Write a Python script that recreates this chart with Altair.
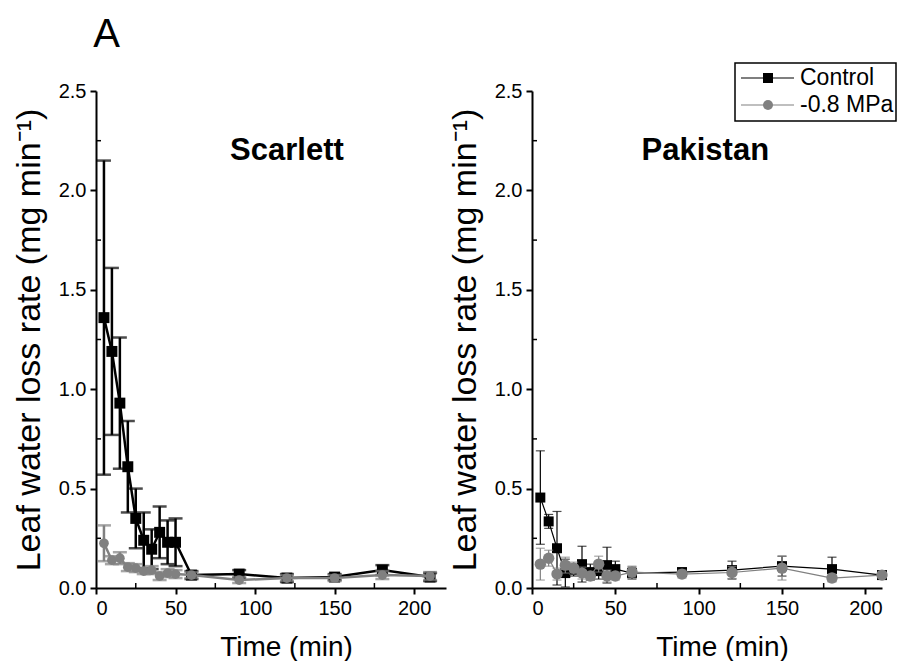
import altair as alt
import pandas as pd

# ---------------- data ----------------
times = [5, 10, 15, 20, 25, 30, 35, 40, 45, 50, 60, 90, 120, 150, 180, 210]

scarlett_control_mean = [1.36, 1.19, 0.93, 0.61, 0.35, 0.24, 0.195, 0.28, 0.23, 0.23, 0.065, 0.07, 0.05, 0.055, 0.09, 0.055]
scarlett_control_err = [0.79, 0.42, 0.33, 0.23, 0.15, 0.14, 0.10, 0.13, 0.11, 0.12, 0.02, 0.02, 0.02, 0.015, 0.025, 0.02]
scarlett_stress_mean = [0.225, 0.14, 0.15, 0.105, 0.10, 0.085, 0.09, 0.06, 0.075, 0.07, 0.065, 0.04, 0.05, 0.05, 0.065, 0.06]
scarlett_stress_err = [0.09, 0.02, 0.03, 0.02, 0.02, 0.015, 0.02, 0.02, 0.02, 0.02, 0.015, 0.015, 0.015, 0.015, 0.02, 0.02]

pakistan_control_mean = [0.455, 0.335, 0.20, 0.075, 0.09, 0.12, 0.08, 0.085, 0.115, 0.095, 0.075, 0.08, 0.09, 0.11, 0.095, 0.065]
pakistan_control_err = [0.235, 0.035, 0.185, 0.07, 0.03, 0.09, 0.04, 0.04, 0.09, 0.04, 0.03, 0.02, 0.045, 0.05, 0.06, 0.02]
pakistan_stress_mean = [0.12, 0.15, 0.07, 0.115, 0.10, 0.075, 0.06, 0.12, 0.06, 0.06, 0.08, 0.07, 0.078, 0.10, 0.05, 0.065]
pakistan_stress_err = [0.08, 0.04, 0.03, 0.04, 0.03, 0.03, 0.02, 0.04, 0.03, 0.02, 0.03, 0.02, 0.03, 0.06, 0.02, 0.01]

groups = ["Control", "-0.8 MPa"]
group_colors = ["#000000", "#808080"]
group_shapes = ["square", "circle"]

x_ticks = [0, 50, 100, 150, 200]
x_minor = [25, 75, 125, 175]
y_ticks = [0.0, 0.5, 1.0, 1.5, 2.0, 2.5]
y_minor = [0.25, 0.75, 1.25, 1.75, 2.25]

panel_names = ["Scarlett", "Pakistan"]
y_title = "Leaf water loss rate (mg min\u207b\u00b9)"
x_title = "Time (min)"

# ---------------- styling ----------------
FONT = "Liberation Sans"
W, H = 350, 497


def build_panel(name, cm, ce, sm, se, xmax, label_x, lw, cap, sizes, legend):
    rows = []
    for grp, means, errs in [(groups[0], cm, ce), (groups[1], sm, se)]:
        for t, m, e in zip(times, means, errs):
            rows.append({"time": t, "group": grp, "mean": m,
                         "lo": max(m - e, 0.0), "hi": m + e})
    df = pd.DataFrame(rows)

    xscale = alt.Scale(domain=[0, xmax], nice=False, zero=False)
    yscale = alt.Scale(domain=[0, 2.5], nice=False, zero=False)
    xaxis = alt.Axis(values=x_ticks, format="d", title=x_title, titleX=190, titleAlign="center")
    yaxis = alt.Axis(values=y_ticks, format=".1f", title=y_title)

    def X(f):
        return alt.X(f, type="quantitative", scale=xscale, axis=xaxis)

    def Y(f):
        return alt.Y(f, type="quantitative", scale=yscale, axis=yaxis)

    layers = []
    # minor ticks (inward)
    mx = pd.DataFrame({"m": [v for v in x_minor if v < xmax]})
    my = pd.DataFrame({"m": y_minor})
    layers.append(alt.Chart(mx).mark_rule(color="black", strokeWidth=1.5).encode(
        x=X("m"), y=alt.value(H), y2=alt.value(H - 5)))
    layers.append(alt.Chart(my).mark_rule(color="black", strokeWidth=1.5).encode(
        y=Y("m"), x=alt.value(0), x2=alt.value(5)))

    for grp, color, shape, size in zip(groups, group_colors, group_shapes, sizes):
        b = alt.Chart(df).transform_filter(alt.datum.group == grp)
        layers += [
            b.mark_rule(color=color, strokeWidth=lw).encode(x=X("time"), y=Y("lo"), y2="hi"),
            b.mark_tick(color=color, thickness=lw, size=cap, orient="horizontal").encode(x=X("time"), y=Y("hi")),
            b.mark_tick(color=color, thickness=lw, size=cap, orient="horizontal").encode(x=X("time"), y=Y("lo")),
            b.mark_line(color=color, strokeWidth=lw).encode(x=X("time"), y=Y("mean")),
            b.mark_point(shape=shape, filled=True, size=size, color=color, opacity=1).encode(x=X("time"), y=Y("mean")),
        ]

    lab = pd.DataFrame({"time": [label_x], "mean": [2.2], "label": [name]})
    layers.append(alt.Chart(lab).mark_text(font=FONT, fontSize=31, fontWeight="bold", color="black").encode(
        x=X("time"), y=Y("mean"), text="label:N"))

    if legend:
        one = pd.DataFrame({"k": [0]})
        bx0, bx1, by0, by1 = 203, 364, -28, 30
        row_y = [-13, 14]
        layers.append(alt.Chart(one).mark_rect(fill="white", stroke="black", strokeWidth=1.5).encode(
            x=alt.value(bx0), x2=alt.value(bx1), y=alt.value(by0), y2=alt.value(by1)))
        for grp, color, shape, ry in zip(groups, group_colors, group_shapes, row_y):
            layers.append(alt.Chart(one).mark_rule(color=color, strokeWidth=1.2).encode(
                x=alt.value(209), x2=alt.value(262), y=alt.value(ry)))
            layers.append(alt.Chart(one).mark_point(shape=shape, filled=True, size=100, color=color, opacity=1).encode(
                x=alt.value(236), y=alt.value(ry)))
            layers.append(alt.Chart(one).mark_text(font=FONT, fontSize=23, align="left", baseline="middle", color="black").encode(
                x=alt.value(268), y=alt.value(ry), text=alt.value(grp)))

    return alt.layer(*layers).properties(width=W, height=H)


left = build_panel(panel_names[0], scarlett_control_mean, scarlett_control_err,
                   scarlett_stress_mean, scarlett_stress_err,
                   220, 120, 2.5, 14, [120, 95], False)
right = build_panel(panel_names[1], pakistan_control_mean, pakistan_control_err,
                    pakistan_stress_mean, pakistan_stress_err,
                    210, 104, 1.2, 9, [100, 130], True)

chart = alt.hconcat(left, right, spacing=2).properties(
    title=alt.TitleParams("A", anchor="start", fontSize=40, font=FONT, fontWeight="normal",
                          color="black", dx=81, offset=7)
).configure(
    padding={"left": 4, "top": 7, "right": 0, "bottom": 0}
).configure_view(stroke=None).configure_axis(
    grid=False,
    domainColor="black", domainWidth=2,
    tickColor="black", tickWidth=2, tickSize=6,
    labelFont=FONT, labelFontSize=20, labelColor="black", labelPadding=4,
    titleFont=FONT, titleFontWeight="normal", titleColor="black",
).configure_axisX(
    titleFontSize=28, titlePadding=15,
).configure_axisY(
    titleFontSize=34, titlePadding=12,
)

chart.save("out.html", embed_options={"renderer": "svg", "actions": False})
